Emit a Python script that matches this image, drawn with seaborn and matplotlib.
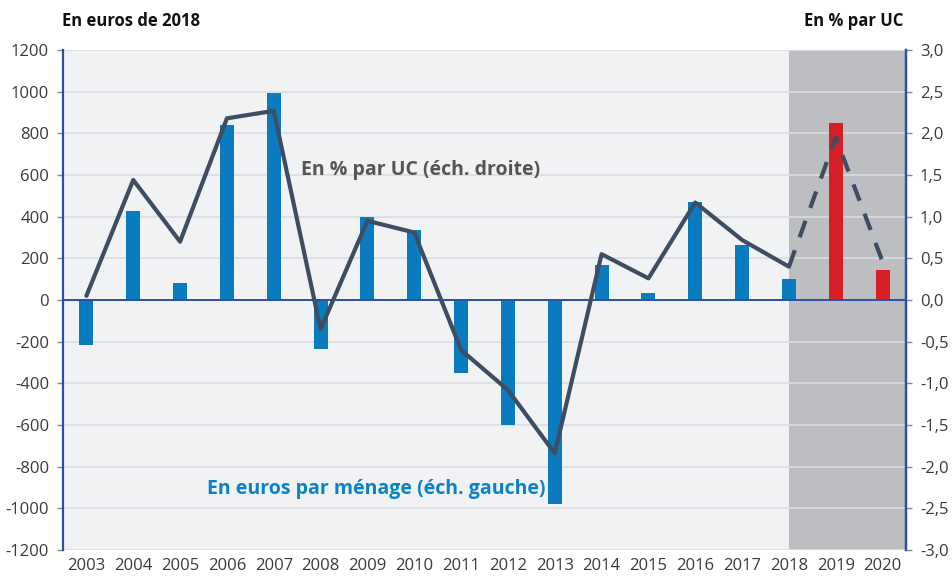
import matplotlib
matplotlib.use("Agg")
import matplotlib.pyplot as plt
import seaborn as sns
import pandas as pd
import numpy as np
from matplotlib.ticker import FixedLocator, FuncFormatter

years = ["2003", "2004", "2005", "2006", "2007", "2008", "2009", "2010", "2011",
         "2012", "2013", "2014", "2015", "2016", "2017", "2018", "2019", "2020"]
euros_menage = [-215, 425, 80, 840, 995, -235, 400, 335, -350,
                -600, -980, 170, 35, 470, 262, 100, 850, 145]
pct_uc = [0.05, 1.44, 0.70, 2.18, 2.27, -0.35, 0.95, 0.81, -0.60,
          -1.08, -1.84, 0.55, 0.26, 1.17, 0.72, 0.40, 1.95, 0.46]
forecast_years = ["2019", "2020"]

left_ticks = [-1200, -1000, -800, -600, -400, -200, 0, 200, 400, 600, 800, 1000, 1200]
right_ticks = [-3.0, -2.5, -2.0, -1.5, -1.0, -0.5, 0.0, 0.5, 1.0, 1.5, 2.0, 2.5, 3.0]

BLUE = "#0a7bbf"
RED = "#d71e26"
LINE = "#3e4d62"
SPINE = "#2b4ea6"
BG = "#f1f2f4"
SHADE = "#bdbec2"
TXT = "#3a3a3a"

sns.set_theme(style="white")
plt.rcParams["font.family"] = ["Open Sans", "DejaVu Sans"]

df = pd.DataFrame({"year": years, "eur": euros_menage, "pct": pct_uc})
df["pos"] = np.arange(len(years))
pal = {y: (RED if y in forecast_years else BLUE) for y in years}

fig = plt.figure(figsize=(9.52, 5.76), dpi=100)
ax = fig.add_axes([63 / 952, 26 / 576, 843 / 952, 500 / 576])
ax.set_facecolor(BG)

sns.barplot(data=df, x="year", y="eur", hue="year", palette=pal, legend=False,
            width=0.3, saturation=1, ax=ax, zorder=3, linewidth=0, edgecolor="none")

ax.axvspan(15, 17.5, color=SHADE, zorder=0.2, lw=0)
ax.set_xlim(-0.5, len(years) - 0.5)
ax.set_ylim(-1200, 1200)
ax.set_yticks(left_ticks)
ax.set_yticklabels([str(t) for t in left_ticks])
ax.grid(axis="y", color="#dcdde0", lw=1.2)
ax.set_axisbelow(True)
ax.axhline(0, color=SPINE, lw=1.4, zorder=4)
ax.set_xlabel("")
ax.set_ylabel("")

ax.xaxis.set_minor_locator(FixedLocator(np.arange(0.5, len(years) - 1, 1.0)))
ax.tick_params(axis="x", which="major", length=0, labelsize=12, labelcolor=TXT, pad=6)
ax.tick_params(axis="x", which="minor", length=5, width=1, color="#888888", direction="out")
ax.tick_params(axis="y", length=4, width=1, color="#888888", direction="out",
               labelsize=12, labelcolor=TXT, pad=6)

for s in ["top", "bottom"]:
    ax.spines[s].set_visible(False)
for s in ["left", "right"]:
    ax.spines[s].set_color(SPINE)
    ax.spines[s].set_linewidth(1.6)

ax2 = ax.twinx()
ax2.patch.set_visible(False)
solid = df.iloc[:16]
dashed = df.iloc[15:]
sns.lineplot(x=solid["pos"], y=solid["pct"], color=LINE, lw=3, ax=ax2, zorder=5)
sns.lineplot(x=dashed["pos"], y=dashed["pct"], color=LINE, lw=3, ax=ax2, zorder=5,
             linestyle=(0, (4.2, 3.3)))
ax2.set_xlim(-0.5, len(years) - 0.5)
ax2.set_ylim(-3, 3)
ax2.set_yticks(right_ticks)
ax2.yaxis.set_major_formatter(FuncFormatter(lambda v, p: f"{v:.1f}".replace(".", ",")))
ax2.set_ylabel("")
ax2.set_xlabel("")
ax2.tick_params(axis="y", length=4, width=1, color="#888888", direction="out",
                labelsize=12, labelcolor=TXT, pad=6)
for s in ["top", "bottom", "left"]:
    ax2.spines[s].set_visible(False)
ax2.spines["right"].set_color(SPINE)
ax2.spines["right"].set_linewidth(1.6)

fig.text(62 / 952, 1 - 21 / 576, "En euros de 2018", fontsize=12, fontweight="bold",
         color="#111111", va="center", ha="left")
fig.text(903 / 952, 1 - 21 / 576, "En % par UC", fontsize=12, fontweight="bold",
         color="#111111", va="center", ha="right")
ax2.text(4.58, 1.56, "En % par UC (éch. droite)", fontsize=14, fontweight="bold",
         color="#555555", va="center", ha="left", zorder=6)
ax.text(2.57, -905, "En euros par ménage (éch. gauche)", fontsize=14, fontweight="bold",
        color="#0a82c6", va="center", ha="left", zorder=6)

fig.savefig("out.png", dpi=100, facecolor="white")
